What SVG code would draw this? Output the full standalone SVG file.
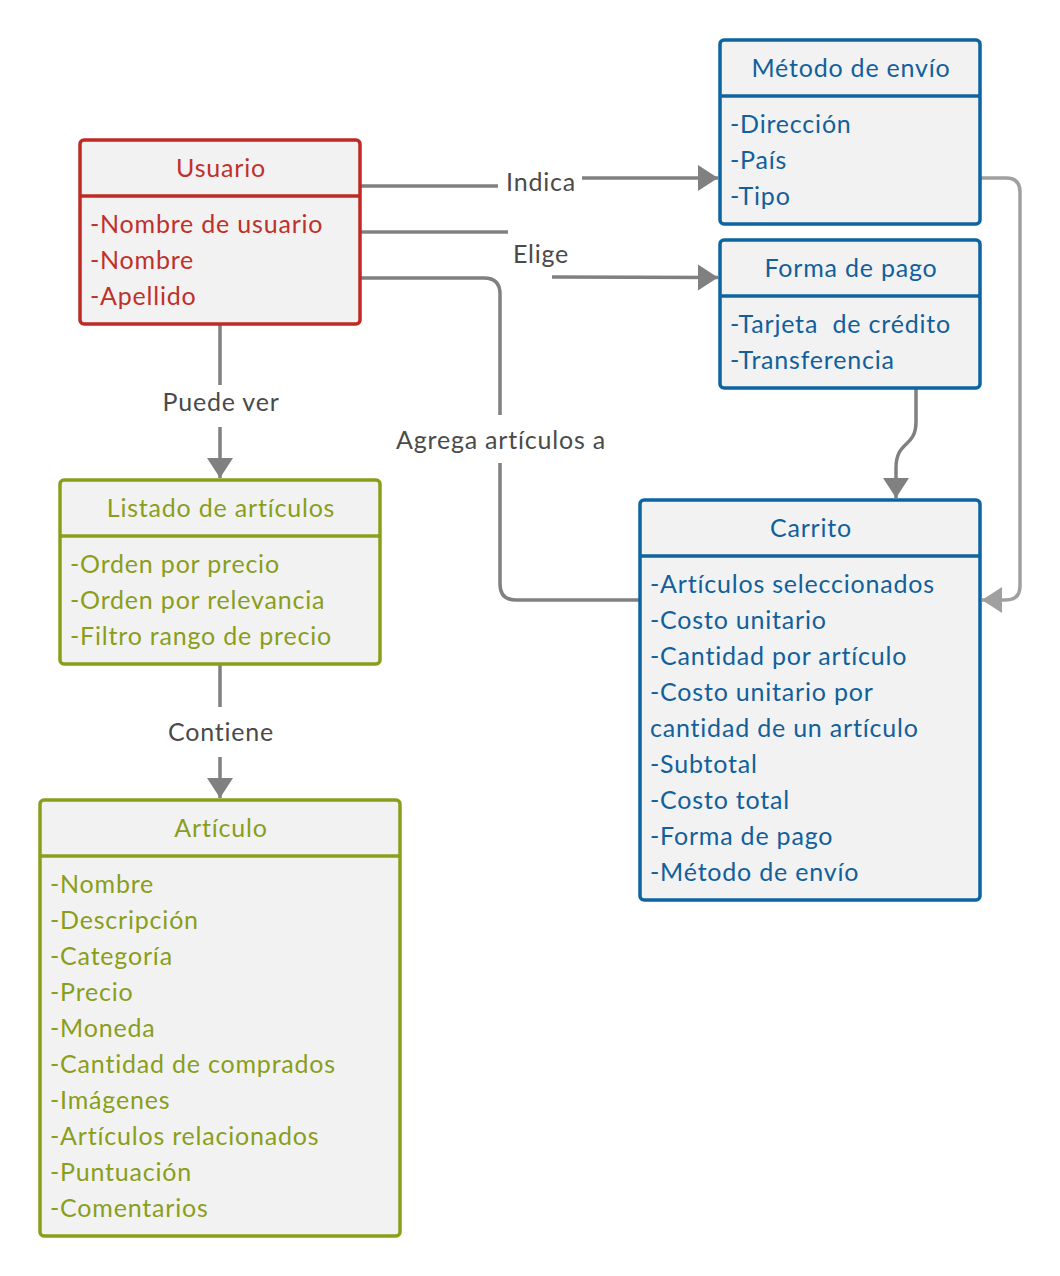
<svg xmlns="http://www.w3.org/2000/svg" width="1060" height="1276" viewBox="0 0 1060 1276">
<style>
text{font-family:Lato,"Liberation Sans",sans-serif;font-size:25px;letter-spacing:0.8px}
.box{fill:#f2f2f2;stroke-width:3.5}
.red .box,.red line{stroke:#bf2a25}
.red text{fill:#c0302a}
.blue .box,.blue line{stroke:#0d64a0}
.blue text{fill:#11609c}
.green .box,.green line{stroke:#8b9e1b}
.green text{fill:#8a9e1a}
.sep{stroke-width:3.5}
.t{text-anchor:middle}
.c{fill:none;stroke:#808080;stroke-width:3.5}
.cl{fill:none;stroke:#a0a0a0;stroke-width:3.5}
.lbl{fill:#4a4a4a;text-anchor:middle}
</style>
<defs>
<marker id="ah" markerUnits="userSpaceOnUse" markerWidth="22" markerHeight="28" refX="20" refY="13" orient="auto"><path d="M0,0 L20,13 L0,26 Z" fill="#808080"/></marker>
<marker id="ahl" markerUnits="userSpaceOnUse" markerWidth="22" markerHeight="28" refX="20" refY="13" orient="auto"><path d="M0,0 L20,13 L0,26 Z" fill="#a0a0a0"/></marker>
</defs>
<g id="connectors">
<line class="c" x1="360" y1="186" x2="498" y2="186"/>
<path class="c" d="M582,178 L718,178" marker-end="url(#ah)"/>
<text class="lbl" x="541" y="191">Indica</text>
<line class="c" x1="360" y1="232" x2="508" y2="232"/>
<path class="c" d="M552,277 L718,277.5" marker-end="url(#ah)"/>
<text class="lbl" x="541" y="263">Elige</text>
<path class="c" d="M360,278 L484,278 Q500,278 500,294 L500,415"/>
<path class="c" d="M500,463 L500,584 Q500,600 516,600 L640,600"/>
<text class="lbl" x="501" y="449">Agrega artículos a</text>
<line class="c" x1="220" y1="324" x2="220" y2="385"/>
<path class="c" d="M220,427 L220,478" marker-end="url(#ah)"/>
<text class="lbl" x="221" y="411">Puede ver</text>
<line class="c" x1="220" y1="664" x2="220" y2="707"/>
<path class="c" d="M220,757 L220,798" marker-end="url(#ah)"/>
<text class="lbl" x="221" y="741">Contiene</text>
<path class="c" d="M916,388 L916,422 C916,448 896,440 896,468 L896,498" marker-end="url(#ah)"/>
<path class="cl" d="M980,178 L1006,178 Q1020,178 1020,192 L1020,586 Q1020,600 1006,600 L982,600" marker-end="url(#ahl)"/>
</g>
<g id="usuario" class="red">
<rect class="box" x="80" y="140" width="280" height="184" rx="4"/>
<line class="sep" x1="80" y1="196" x2="360" y2="196"/>
<text class="t" x="221" y="177">Usuario</text>
<text x="90" y="233">-Nombre de usuario</text>
<text x="90" y="269">-Nombre</text>
<text x="90" y="305">-Apellido</text>
</g>
<g id="metodo-envio" class="blue">
<rect class="box" x="720" y="40" width="260" height="184" rx="4"/>
<line class="sep" x1="720" y1="96" x2="980" y2="96"/>
<text class="t" x="851" y="77">Método de envío</text>
<text x="730" y="133">-Dirección</text>
<text x="730" y="169">-País</text>
<text x="730" y="205">-Tipo</text>
</g>
<g id="forma-pago" class="blue">
<rect class="box" x="720" y="240" width="260" height="148" rx="4"/>
<line class="sep" x1="720" y1="296" x2="980" y2="296"/>
<text class="t" x="851" y="277">Forma de pago</text>
<text x="730" y="333" xml:space="preserve">-Tarjeta  de crédito</text>
<text x="730" y="369">-Transferencia</text>
</g>
<g id="carrito" class="blue">
<rect class="box" x="640" y="500" width="340" height="400" rx="4"/>
<line class="sep" x1="640" y1="556" x2="980" y2="556"/>
<text class="t" x="811" y="537">Carrito</text>
<text x="650" y="593">-Artículos seleccionados</text>
<text x="650" y="629">-Costo unitario</text>
<text x="650" y="665">-Cantidad por artículo</text>
<text x="650" y="701">-Costo unitario por</text>
<text x="650" y="737">cantidad de un artículo</text>
<text x="650" y="773">-Subtotal</text>
<text x="650" y="809">-Costo total</text>
<text x="650" y="845">-Forma de pago</text>
<text x="650" y="881">-Método de envío</text>
</g>
<g id="listado" class="green">
<rect class="box" x="60" y="480" width="320" height="184" rx="4"/>
<line class="sep" x1="60" y1="536" x2="380" y2="536"/>
<text class="t" x="221" y="517">Listado de artículos</text>
<text x="70" y="573">-Orden por precio</text>
<text x="70" y="609">-Orden por relevancia</text>
<text x="70" y="645">-Filtro rango de precio</text>
</g>
<g id="articulo" class="green">
<rect class="box" x="40" y="800" width="360" height="436" rx="4"/>
<line class="sep" x1="40" y1="856" x2="400" y2="856"/>
<text class="t" x="221" y="837">Artículo</text>
<text x="50" y="893">-Nombre</text>
<text x="50" y="929">-Descripción</text>
<text x="50" y="965">-Categoría</text>
<text x="50" y="1001">-Precio</text>
<text x="50" y="1037">-Moneda</text>
<text x="50" y="1073">-Cantidad de comprados</text>
<text x="50" y="1109">-Imágenes</text>
<text x="50" y="1145">-Artículos relacionados</text>
<text x="50" y="1181">-Puntuación</text>
<text x="50" y="1217">-Comentarios</text>
</g>
</svg>
